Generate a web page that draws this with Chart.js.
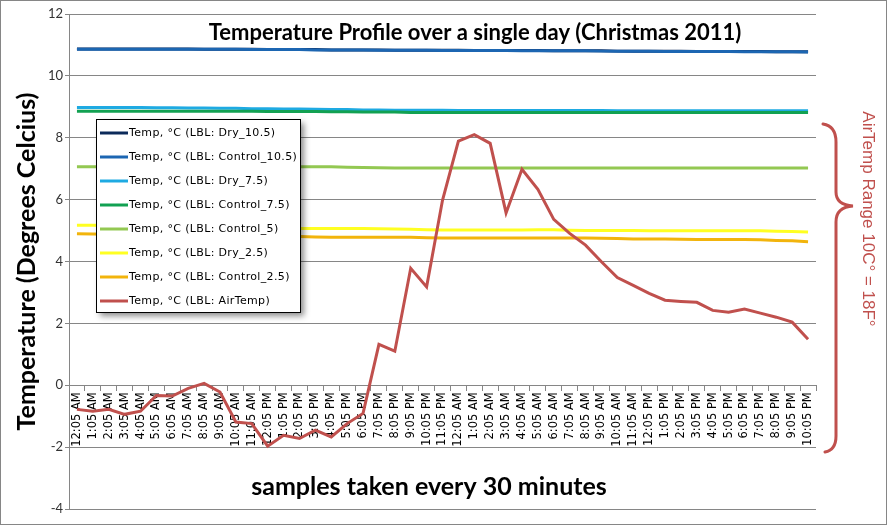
<!DOCTYPE html>
<html>
<head>
<meta charset="utf-8">
<script src="https://cdn.jsdelivr.net/npm/chart.js@4/dist/chart.umd.min.js"></script>
<style>
  html, body { margin: 0; padding: 0; background: #fff; }
  canvas { display: block; }
</style>
</head>
<body>
<canvas id="chart" width="887" height="525"></canvas>
<script>
// hourly tick labels, two days
const timeLabels = [
  "12:05 AM", "1:05 AM", "2:05 AM", "3:05 AM", "4:05 AM", "5:05 AM", "6:05 AM", "7:05 AM",
  "8:05 AM", "9:05 AM", "10:05 AM", "11:05 AM", "12:05 PM", "1:05 PM", "2:05 PM", "3:05 PM",
  "4:05 PM", "5:05 PM", "6:05 PM", "7:05 PM", "8:05 PM", "9:05 PM", "10:05 PM", "11:05 PM",
  "12:05 AM", "1:05 AM", "2:05 AM", "3:05 AM", "4:05 AM", "5:05 AM", "6:05 AM", "7:05 AM",
  "8:05 AM", "9:05 AM", "10:05 AM", "11:05 AM", "12:05 PM", "1:05 PM", "2:05 PM", "3:05 PM",
  "4:05 PM", "5:05 PM", "6:05 PM", "7:05 PM", "8:05 PM", "9:05 PM", "10:05 PM"
];

const dry105 = [
  10.87, 10.87, 10.87, 10.87, 10.87, 10.87, 10.87, 10.87, 10.86, 10.86,
  10.86, 10.86, 10.85, 10.85, 10.85, 10.85, 10.84, 10.84, 10.84, 10.84,
  10.83, 10.83, 10.83, 10.83, 10.83, 10.82, 10.82, 10.82, 10.82, 10.82,
  10.81, 10.81, 10.81, 10.81, 10.80, 10.80, 10.80, 10.80, 10.80, 10.79,
  10.79, 10.79, 10.79, 10.79, 10.78, 10.78, 10.78
];
const control105 = [
  10.86, 10.86, 10.86, 10.86, 10.86, 10.86, 10.86, 10.86, 10.86, 10.86,
  10.86, 10.85, 10.85, 10.85, 10.85, 10.84, 10.84, 10.84, 10.84, 10.83,
  10.83, 10.83, 10.83, 10.82, 10.82, 10.82, 10.82, 10.82, 10.81, 10.81,
  10.81, 10.81, 10.81, 10.80, 10.80, 10.80, 10.80, 10.79, 10.79, 10.79,
  10.79, 10.79, 10.78, 10.78, 10.78, 10.78, 10.77
];
const dry75 = [
  8.98, 8.98, 8.98, 8.98, 8.98, 8.97, 8.97, 8.96, 8.96, 8.95,
  8.95, 8.94, 8.94, 8.93, 8.93, 8.92, 8.91, 8.91, 8.90, 8.90,
  8.89, 8.89, 8.89, 8.89, 8.88, 8.88, 8.88, 8.88, 8.88, 8.88,
  8.88, 8.88, 8.88, 8.88, 8.87, 8.87, 8.87, 8.87, 8.87, 8.87,
  8.87, 8.87, 8.87, 8.87, 8.87, 8.87, 8.87
];
const control75 = [
  8.86, 8.86, 8.86, 8.86, 8.86, 8.86, 8.86, 8.86, 8.86, 8.86,
  8.86, 8.86, 8.85, 8.85, 8.85, 8.85, 8.84, 8.84, 8.83, 8.83,
  8.83, 8.82, 8.82, 8.82, 8.82, 8.82, 8.82, 8.82, 8.82, 8.82,
  8.82, 8.82, 8.82, 8.82, 8.82, 8.82, 8.82, 8.82, 8.82, 8.82,
  8.82, 8.82, 8.82, 8.82, 8.82, 8.82, 8.82
];
const control5 = [
  7.06, 7.06, 7.06, 7.06, 7.06, 7.06, 7.06, 7.06, 7.06, 7.06,
  7.06, 7.06, 7.06, 7.06, 7.06, 7.06, 7.06, 7.05, 7.04, 7.03,
  7.02, 7.02, 7.02, 7.02, 7.02, 7.02, 7.02, 7.02, 7.02, 7.02,
  7.02, 7.02, 7.02, 7.02, 7.02, 7.02, 7.02, 7.02, 7.02, 7.02,
  7.02, 7.02, 7.02, 7.02, 7.02, 7.02, 7.02
];
const dry25 = [
  5.17, 5.17, 5.16, 5.15, 5.14, 5.12, 5.10, 5.09, 5.08, 5.07,
  5.07, 5.07, 5.07, 5.07, 5.07, 5.07, 5.07, 5.07, 5.07, 5.06,
  5.05, 5.04, 5.03, 5.02, 5.02, 5.02, 5.02, 5.02, 5.02, 5.03,
  5.03, 5.01, 5.00, 5.00, 5.00, 5.00, 4.99, 4.99, 4.99, 4.99,
  4.99, 4.99, 4.99, 4.99, 4.98, 4.97, 4.95
];
const control25 = [
  4.90, 4.89, 4.88, 4.87, 4.86, 4.85, 4.84, 4.83, 4.82, 4.81,
  4.81, 4.81, 4.82, 4.82, 4.81, 4.79, 4.78, 4.78, 4.78, 4.78,
  4.78, 4.78, 4.77, 4.76, 4.76, 4.76, 4.76, 4.76, 4.76, 4.76,
  4.76, 4.76, 4.76, 4.75, 4.74, 4.73, 4.73, 4.73, 4.72, 4.71,
  4.71, 4.71, 4.71, 4.70, 4.68, 4.67, 4.64
];
const airTemp = [
  -0.78, -0.84, -0.78, -0.94, -0.84, -0.33, -0.35, -0.10, 0.06, -0.22,
  -1.19, -1.24, -1.97, -1.62, -1.72, -1.45, -1.67, -1.24, -0.91, 1.32,
  1.10, 3.78, 3.18, 5.98, 7.89, 8.10, 7.82, 5.57, 6.98, 6.33,
  5.36, 4.91, 4.53, 3.99, 3.48, 3.23, 2.97, 2.75, 2.71, 2.68,
  2.42, 2.36, 2.46, 2.33, 2.20, 2.04, 1.49
];

const seriesNames = [
  "Temp, °C (LBL: Dry_10.5)",
  "Temp, °C (LBL: Control_10.5)",
  "Temp, °C (LBL: Dry_7.5)",
  "Temp, °C (LBL: Control_7.5)",
  "Temp, °C (LBL: Control_5)",
  "Temp, °C (LBL: Dry_2.5)",
  "Temp, °C (LBL: Control_2.5)",
  "Temp, °C (LBL: AirTemp)"
];
const seriesColors = ["#0c2a5a", "#1c66b2", "#1eaae2", "#12a152", "#93c852", "#ffff22", "#f2b40c", "#c0504d"];
const seriesValues = [dry105, control105, dry75, control75, control5, dry25, control25, airTemp];

const chartTitle = "Temperature Profile over a single day (Christmas 2011)";
const xTitle = "samples taken every 30 minutes";
const yTitle = "Temperature (Degrees Celcius)";
const rangeNote = "AirTemp Range 10C\u00B0 = 18F\u00B0";

const GRID = "#868686";
const RED = "#c0504d";

// later series sit on top, like the spreadsheet draws them
const datasets = seriesValues.map((vals, i) => ({
  label: seriesNames[i],
  data: vals,
  borderColor: seriesColors[i],
  backgroundColor: seriesColors[i],
  borderWidth: 3,
  pointRadius: 0,
  tension: 0,
  fill: false,
  order: seriesValues.length - 1 - i
}));

// legend box, title texts, brace annotation and outer frame
const extrasPlugin = {
  id: "extras",
  afterDraw(chart) {
    const ctx = chart.ctx;
    ctx.save();

    // legend
    const lx = 96, ly = 119, lw = 204, lh = 193;
    ctx.save();
    ctx.shadowColor = "rgba(0,0,0,0.45)";
    ctx.shadowBlur = 6;
    ctx.shadowOffsetX = 4;
    ctx.shadowOffsetY = 4;
    ctx.fillStyle = "#fff";
    ctx.fillRect(lx, ly, lw, lh);
    ctx.restore();
    ctx.strokeStyle = "#000";
    ctx.lineWidth = 1;
    ctx.strokeRect(lx + 0.5, ly + 0.5, lw, lh);
    ctx.save();
    ctx.font = "11px 'DejaVu Sans'";
    ctx.letterSpacing = "0.35px";
    ctx.textBaseline = "middle";
    ctx.textAlign = "left";
    seriesNames.forEach((name, i) => {
      const y = 133 + i * 24;
      ctx.strokeStyle = seriesColors[i];
      ctx.lineWidth = 3;
      ctx.beginPath();
      ctx.moveTo(100, y);
      ctx.lineTo(128, y);
      ctx.stroke();
      ctx.fillStyle = "#000";
      ctx.fillText(name, 129, y);
    });
    ctx.restore();

    // chart title
    ctx.fillStyle = "#000";
    ctx.textAlign = "center";
    ctx.textBaseline = "middle";
    ctx.font = "bold 22px Lato";
    ctx.fillText(chartTitle, 475, 33);

    // x title
    ctx.font = "bold 25px Lato";
    ctx.fillText(xTitle, 429, 487);

    // brace
    ctx.strokeStyle = RED;
    ctx.lineWidth = 3;
    ctx.lineCap = "round";
    ctx.beginPath();
    ctx.moveTo(823, 124);
    ctx.quadraticCurveTo(836, 126, 836, 142);
    ctx.lineTo(836, 192);
    ctx.quadraticCurveTo(836, 205, 853, 206);
    ctx.quadraticCurveTo(836, 207, 836, 222);
    ctx.lineTo(836, 436);
    ctx.quadraticCurveTo(836, 450, 825, 452);
    ctx.stroke();

    // range note
    ctx.save();
    ctx.translate(868, 219);
    ctx.rotate(Math.PI / 2);
    ctx.fillStyle = RED;
    ctx.font = "17px 'Liberation Sans'";
    ctx.textAlign = "center";
    ctx.textBaseline = "middle";
    ctx.fillText(rangeNote, 0, 0);
    ctx.restore();

    // outer frame
    ctx.strokeStyle = GRID;
    ctx.lineWidth = 1;
    ctx.strokeRect(0.5, 0.5, 886, 524);

    ctx.restore();
  }
};

new Chart(document.getElementById("chart"), {
  type: "line",
  data: { labels: timeLabels, datasets: datasets },
  options: {
    responsive: false,
    animation: false,
    layout: { padding: { left: 0, right: 71, top: 14, bottom: 16 } },
    plugins: {
      legend: { display: false },
      tooltip: { enabled: false }
    },
    scales: {
      x: {
        type: "category",
        position: { y: 0 },
        offset: true,
        grid: { display: true, drawOnChartArea: false, offset: true, tickLength: 5, color: GRID },
        border: { color: GRID },
        ticks: {
          autoSkip: false,
          minRotation: 90,
          maxRotation: 90,
          padding: 2,
          color: "#000",
          font: { family: "DejaVu Sans", size: 11.5 }
        }
      },
      y: {
        min: -4,
        max: 12,
        afterFit: (s) => { s.width = 69; },
        grid: { color: GRID, tickLength: 4 },
        border: { color: GRID },
        ticks: {
          stepSize: 2,
          padding: 2,
          color: "#333",
          font: { family: "Lato", size: 13 }
        },
        title: {
          display: true,
          text: yTitle,
          color: "#000",
          font: { family: "Lato", size: 25, weight: "bold" },
          padding: { top: 12, bottom: 0 }
        }
      }
    }
  },
  plugins: [extrasPlugin]
});
</script>
</body>
</html>
